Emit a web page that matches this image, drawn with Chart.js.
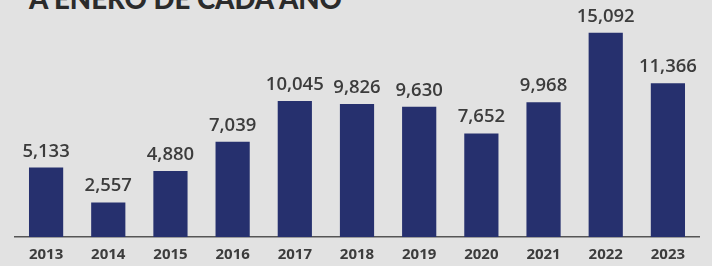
<!DOCTYPE html>
<html>
<head>
<meta charset="utf-8">
<script src="https://cdn.jsdelivr.net/npm/chart.js@4.4.1/dist/chart.umd.min.js"></script>
<style>
  html, body { margin: 0; padding: 0; background: #e2e2e2; }
  #wrap { position: relative; width: 712px; height: 266px; overflow: hidden; }
  #title {
    position: absolute; left: 29px; top: -15px;
    font-family: Lato, sans-serif; font-weight: 900; font-size: 27.6px;
    color: #2b2b2b; white-space: nowrap; line-height: 28px;
  }
  canvas { position: absolute; left: 0; top: 0; }
</style>
</head>
<body>
<div id="wrap">
  <div id="title">A ENERO DE CADA AÑO</div>
  <canvas id="chart" width="712" height="266"></canvas>
</div>
<script>
// valores a enero de cada año
const years  = ['2013', '2014', '2015', '2016', '2017', '2018', '2019', '2020', '2021', '2022', '2023'];
const values = [5133, 2557, 4880, 7039, 10045, 9826, 9630, 7652, 9968, 15092, 11366];

const barLabels = {
  id: 'barLabels',
  afterDatasetsDraw(chart) {
    const { ctx } = chart;
    const meta = chart.getDatasetMeta(0);
    ctx.save();
    ctx.font = '600 18.5px "Open Sans", sans-serif';
    ctx.fillStyle = '#3c3c3c';
    ctx.textAlign = 'center';
    ctx.textBaseline = 'alphabetic';
    meta.data.forEach((bar, i) => {
      ctx.fillText(values[i].toLocaleString('en-US'), bar.x, bar.y - 11);
    });
    ctx.restore();
  }
};

new Chart(document.getElementById('chart'), {
  type: 'bar',
  data: {
    labels: years,
    datasets: [{
      data: values,
      backgroundColor: '#26306e',
      borderWidth: 0,
      barPercentage: 0.55,
      categoryPercentage: 1,
    }]
  },
  options: {
    responsive: false,
    animation: false,
    layout: { padding: { left: 15, right: 13, top: 7, bottom: 0 } },
    plugins: { legend: { display: false }, tooltip: { enabled: false } },
    scales: {
      x: {
        grid: { display: false, drawTicks: false },
        border: { display: true, color: '#555555', width: 1.5 },
        ticks: { color: '#3c3c3c', font: { family: 'Open Sans', weight: '700', size: 15 }, padding: 9 },
        afterFit(scale) { scale.height = 29; }
      },
      y: {
        display: false,
        min: 0,
        max: 17000,
      }
    }
  },
  plugins: [barLabels]
});
</script>
</body>
</html>
